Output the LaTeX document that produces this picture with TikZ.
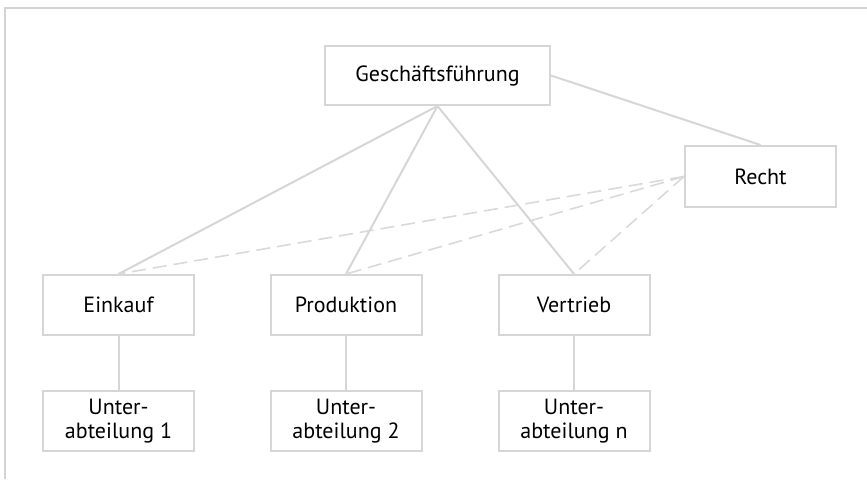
\documentclass[tikz,border=0pt]{standalone}
\usepackage{fontspec}
\setmainfont{PT Sans}
\usetikzlibrary{positioning}
\definecolor{frameline}{HTML}{D3D3D3}
\definecolor{boxline}{HTML}{D6D6D6}
\definecolor{dashline}{HTML}{D9D9D9}

\begin{document}
\begin{tikzpicture}[
    x=1pt, y=1pt,
    every node/.style={font=\fontsize{22}{24}\selectfont, text=black},
    unit/.style={draw=boxline, line width=2pt, align=center, inner sep=0pt,
                 minimum width=151pt, minimum height=60pt},
    head/.style={unit, minimum width=225pt, minimum height=59pt},
    line/.style={draw=boxline, line width=2pt},
    staff/.style={draw=dashline, line width=1.6pt, dash pattern=on 14pt off 7pt},
  ]
  \useasboundingbox (0,0) rectangle (867,-479);

  % the frame, cut off at the right and at the bottom
  \draw[frameline, line width=2pt] (5,-479) -- (5,-8) -- (867,-8);

  % management and staff unit
  \node[head] (gf) at (437.5,-75.5) {Geschäftsführung};
  \node[unit, minimum height=61pt, below right=39pt and 133pt of gf] (recht) {Recht};

  % departments
  \node[unit, below=168pt of gf, xshift=-319pt] (einkauf) {Einkauf};
  \node[unit, right=74.5pt of einkauf] (produktion) {Produktion};
  \node[unit, right=75pt of produktion] (vertrieb) {Vertrieb};

  % sub-departments
  \node[unit, below=54pt of einkauf]    (sub1) {Unter-\\abteilung 1};
  \node[unit, below=54pt of produktion] (sub2) {Unter-\\abteilung 2};
  \node[unit, below=54pt of vertrieb]   (subn) {Unter-\\abteilung n};

  \draw[line] (gf.east) -- (recht.north);
  \draw[line] (gf.south) -- (einkauf.north);
  \draw[line] (gf.south) -- (produktion.north);
  \draw[line] (gf.south) -- (vertrieb.north);

  \draw[staff] (recht.west) -- (einkauf.north);
  \draw[staff] (recht.west) -- (produktion.north);
  \draw[staff] (recht.west) -- (vertrieb.north);

  \draw[line] (einkauf) -- (sub1);
  \draw[line] (produktion) -- (sub2);
  \draw[line] (vertrieb) -- (subn);
\end{tikzpicture}
\end{document}
